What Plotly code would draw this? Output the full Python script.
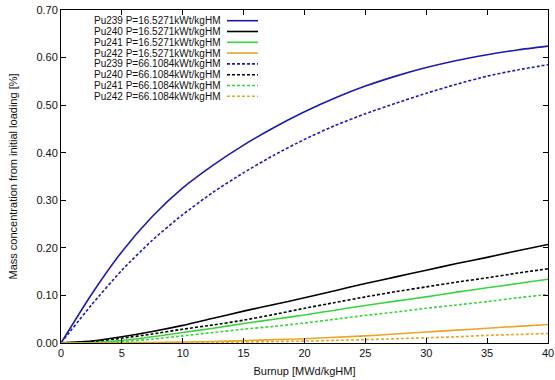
import plotly.graph_objects as go

burnup = [0, 2.5, 5, 7.5, 10, 12.5, 15, 17.5, 20, 22.5, 25, 27.5, 30, 32.5, 35, 37.5, 40]

pu239_p1 = [0, 0.102, 0.192, 0.266, 0.326, 0.374, 0.416, 0.453, 0.486, 0.515, 0.540, 0.561, 0.579, 0.594, 0.606, 0.616, 0.624]
pu240_p1 = [0, 0.004, 0.013, 0.024, 0.037, 0.052, 0.067, 0.081, 0.095, 0.110, 0.125, 0.139, 0.153, 0.167, 0.180, 0.194, 0.207]
pu241_p1 = [0, 0.001, 0.005, 0.013, 0.022, 0.031, 0.041, 0.050, 0.059, 0.069, 0.079, 0.088, 0.097, 0.107, 0.116, 0.125, 0.134]
pu242_p1 = [0, 0, 0.0005, 0.001, 0.002, 0.003, 0.005, 0.007, 0.009, 0.012, 0.015, 0.019, 0.023, 0.027, 0.031, 0.035, 0.039]

pu239_p2 = [0, 0.080, 0.153, 0.216, 0.270, 0.317, 0.358, 0.395, 0.428, 0.457, 0.482, 0.504, 0.525, 0.544, 0.561, 0.574, 0.585]
pu240_p2 = [0, 0.003, 0.010, 0.019, 0.029, 0.038, 0.048, 0.060, 0.073, 0.085, 0.097, 0.108, 0.118, 0.128, 0.137, 0.147, 0.156]
pu241_p2 = [0, 0.0005, 0.003, 0.008, 0.015, 0.022, 0.029, 0.035, 0.042, 0.050, 0.058, 0.065, 0.073, 0.080, 0.087, 0.095, 0.102]
pu242_p2 = [0, 0, 0, 0.0005, 0.001, 0.0015, 0.002, 0.003, 0.004, 0.0055, 0.007, 0.009, 0.011, 0.013, 0.016, 0.018, 0.020]

names = [
    "Pu239 P=16.5271kWt/kgHM", "Pu240 P=16.5271kWt/kgHM",
    "Pu241 P=16.5271kWt/kgHM", "Pu242 P=16.5271kWt/kgHM",
    "Pu239 P=66.1084kWt/kgHM", "Pu240 P=66.1084kWt/kgHM",
    "Pu241 P=66.1084kWt/kgHM", "Pu242 P=66.1084kWt/kgHM",
]
series = [pu239_p1, pu240_p1, pu241_p1, pu242_p1, pu239_p2, pu240_p2, pu241_p2, pu242_p2]
colors = ["#1c1ca8", "#000000", "#3ad43a", "#e8a526"] * 2
dashes = ["solid"] * 4 + ["3px,2px"] * 4

x_ticks = [0, 5, 10, 15, 20, 25, 30, 35, 40]
y_ticks = [0.0, 0.1, 0.2, 0.3, 0.4, 0.5, 0.6, 0.7]

FONT = "Liberation Sans, Arial, sans-serif"

fig = go.Figure()
for name, ys, c, d in zip(names, series, colors, dashes):
    fig.add_trace(go.Scatter(x=burnup, y=ys, mode="lines", name=name,
                             line=dict(color=c, width=1.6, dash=d, shape="spline", smoothing=0.6),
                             showlegend=False))

# gnuplot-style legend: right-aligned text, line sample to the right
row0 = 20.7
dy = 10.8
W = 555.0
PW = W - 61 - 7
for i, (name, c, d) in enumerate(zip(names, colors, dashes)):
    ypx = row0 + i * dy
    yp = (343 - ypx) / 333
    fig.add_annotation(xref="paper", yref="paper", x=(221 - 61) / PW, y=yp,
                       text=name, showarrow=False, xanchor="right", yanchor="middle",
                       borderpad=0,
                       font=dict(family=FONT, size=10, color="#111111"))
    fig.add_shape(type="line", xref="paper", yref="paper",
                  x0=(227 - 61) / PW, x1=(258 - 61) / PW, y0=yp, y1=yp,
                  line=dict(color=c, width=1.6, dash=d))

fig.update_layout(
    width=555, height=380,
    margin=dict(l=61, r=7, t=10, b=37, autoexpand=False),
    paper_bgcolor="white", plot_bgcolor="white",
    font=dict(family=FONT, size=11, color="#111111"),
    showlegend=False,
)
fig.update_xaxes(range=[0, 40], tickvals=x_ticks, ticktext=[str(v) for v in x_ticks],
                 ticks="inside", ticklen=5, tickcolor="black", showline=True, linecolor="black",
                 linewidth=1, mirror="ticks", showgrid=False, zeroline=False, automargin=False,
                 title=dict(text="Burnup [MWd/kgHM]", font=dict(size=11), standoff=9))
fig.update_yaxes(range=[0, 0.70], tickvals=y_ticks, ticktext=[f"{v:.2f}" for v in y_ticks],
                 ticks="inside", ticklen=5, tickcolor="black", showline=True, linecolor="black",
                 linewidth=1, mirror="ticks", showgrid=False, zeroline=False, automargin=False,
                 title=dict(text="Mass concentration from initial loading [%]", font=dict(size=11), standoff=16))

fig.write_html("out.html")
